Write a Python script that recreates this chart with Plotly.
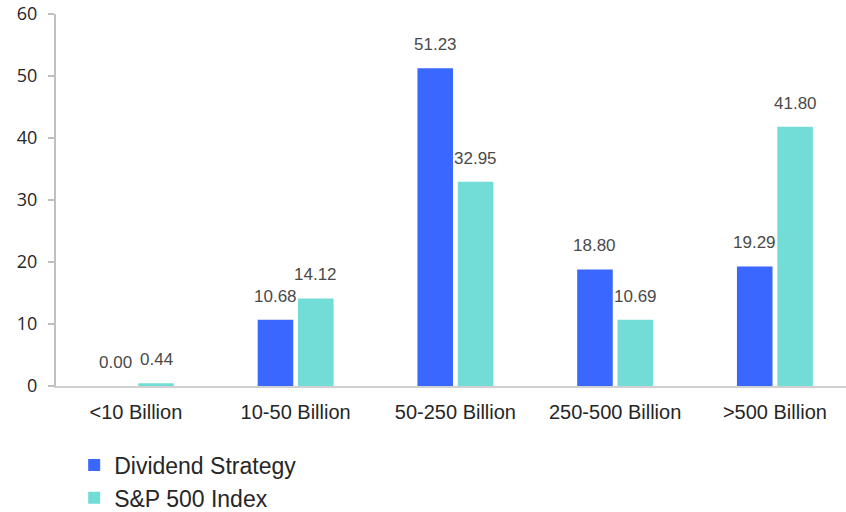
import plotly.graph_objects as go

categories = ["<10 Billion", "10-50 Billion", "50-250 Billion", "250-500 Billion", ">500 Billion"]
dividend = [0.00, 10.68, 51.23, 18.80, 19.29]
sp500 = [0.44, 14.12, 32.95, 10.69, 41.80]
yticks = [0, 10, 20, 30, 40, 50, 60]

BARGAP = 0.495
BARGROUPGAP = 0.118
label_font = dict(family="Liberation Sans, Arial", size=17, color="#4a4a4a")

fig = go.Figure()
fig.add_trace(go.Bar(name="Dividend Strategy", x=categories, y=dividend,
                     marker=dict(color="#3A67FF", line=dict(width=0))))
fig.add_trace(go.Bar(name="S&P 500 Index", x=categories, y=sp500,
                     marker=dict(color="#72DCD6", line=dict(width=0))))

# value labels above each bar, centred on the bar's slot within the group
slot = (1 - BARGAP) / 2
for k, series in enumerate([dividend, sp500]):
    off = (k - 0.5) * slot
    for j, v in enumerate(series):
        fig.add_annotation(x=j + off, y=v, text=f"{v:.2f}", showarrow=False,
                           xanchor="center", yanchor="bottom", yshift=12,
                           font=label_font)

fig.update_layout(
    width=846, height=524,
    margin=dict(l=56, r=0, t=14, b=138),
    paper_bgcolor="white", plot_bgcolor="white",
    barmode="group", bargap=BARGAP, bargroupgap=BARGROUPGAP,
    showlegend=True,
    legend=dict(
        orientation="v", x=0.023, xanchor="left", y=-0.1546, yanchor="top",
        font=dict(family="Liberation Sans, Arial", size=23, color="#262626"),
        itemsizing="constant", tracegroupgap=0,
    ),
    xaxis=dict(
        range=[-0.5, 4.445],
        showline=True, linecolor="#D0D0D0", linewidth=1.5,
        ticks="", ticklabelstandoff=7,
        tickfont=dict(family="Liberation Sans, Arial", size=20, color="#262626"),
        showgrid=False,
    ),
    yaxis=dict(
        range=[0, 60], tickvals=yticks, showline=True, linecolor="#C0C0C0", linewidth=2,
        ticks="outside", ticklen=6, tickcolor="#C0C0C0", tickwidth=1.5,
        ticklabelstandoff=7,
        tickfont=dict(family="Open Sans, Noto Sans", size=18, color="#262626"),
        showgrid=False, zeroline=False,
    ),
)

fig.write_html("out.html", config={"displayModeBar": False},
               post_script="document.body.style.margin='0';document.body.style.overflow='hidden';")
